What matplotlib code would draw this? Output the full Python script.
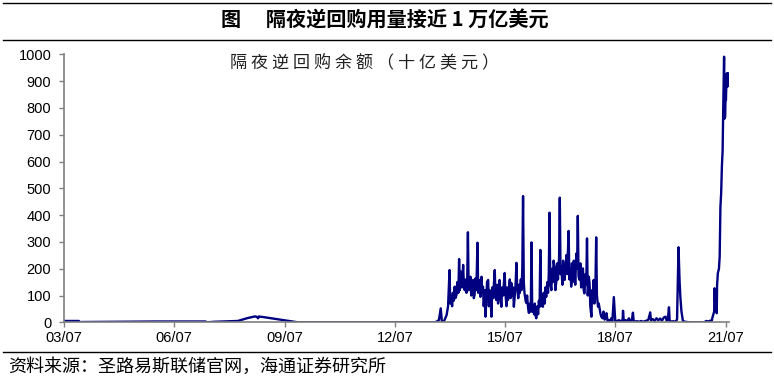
#!/usr/bin/env python3

import matplotlib
matplotlib.use("Agg")
import matplotlib.pyplot as plt
from matplotlib.lines import Line2D

plt.rcParams['font.family'] = ['Noto Sans CJK SC', 'DejaVu Sans']

TITLE = "图\u3000 隔夜逆回购用量接近 1 万亿美元"
LEGEND = " ".join("隔夜逆回购余额（十亿美元）")
SOURCE = "资料来源：圣路易斯联储官网，海通证券研究所"

# decimal year, ON RRP balance (bn USD)
early_t = [2003.50, 2003.90, 2003.92, 2005.00, 2006.00, 2007.35, 2007.39, 2007.60,
           2008.00, 2008.23, 2008.50, 2008.70, 2008.75, 2008.78, 2008.80, 2008.83,
           2008.90, 2009.86, 2013.61]
early_v = [5, 5, 1, 2, 3, 3, 0, 2,
           4, 5, 16, 22, 20, 15, 22, 21,
           20, 0, 0]

t_2013_15 = [2013.64, 2013.70, 2013.75, 2013.78, 2013.82, 2013.86, 2013.91, 2013.95,
             2013.99, 2014.01, 2014.04, 2014.06, 2014.08, 2014.10, 2014.13, 2014.15,
             2014.18, 2014.20, 2014.23, 2014.25, 2014.27, 2014.29, 2014.31, 2014.33,
             2014.36, 2014.38, 2014.40, 2014.43, 2014.45, 2014.47, 2014.49, 2014.51,
             2014.54, 2014.56, 2014.58, 2014.61, 2014.63, 2014.65, 2014.67, 2014.70,
             2014.72, 2014.75, 2014.77, 2014.79, 2014.81, 2014.83, 2014.86, 2014.88,
             2014.90, 2014.92, 2014.95, 2014.97, 2014.99]
v_2013_15 = [3, 8, 52, 5, 2, 10, 27, 60,
             195, 70, 95, 60, 110, 80, 133, 90,
             102, 150, 110, 236, 120, 190, 170, 130,
             214, 140, 120, 160, 110, 150, 336, 120,
             133, 170, 100, 140, 158, 90, 102, 165,
             120, 297, 110, 140, 158, 95, 170, 110,
             133, 60, 120, 21, 90]

t_2015_16 = [2015.01, 2015.04, 2015.06, 2015.08, 2015.11, 2015.13, 2015.15, 2015.18,
             2015.20, 2015.22, 2015.24, 2015.26, 2015.29, 2015.31, 2015.33, 2015.35,
             2015.38, 2015.40, 2015.42, 2015.45, 2015.47, 2015.49, 2015.51, 2015.54,
             2015.56, 2015.58, 2015.60, 2015.63, 2015.65, 2015.67, 2015.70, 2015.72,
             2015.74, 2015.77, 2015.79, 2015.81, 2015.83, 2015.86, 2015.88, 2015.90,
             2015.93, 2015.95, 2015.97, 2015.99, 2016.01, 2016.03, 2016.06, 2016.08,
             2016.10, 2016.13, 2016.15, 2016.18, 2016.20, 2016.22, 2016.24, 2016.26,
             2016.29, 2016.31, 2016.33, 2016.35, 2016.38, 2016.40, 2016.42, 2016.44,
             2016.46, 2016.48, 2016.51, 2016.53, 2016.55, 2016.58, 2016.60, 2016.62,
             2016.65, 2016.67, 2016.69, 2016.71, 2016.73, 2016.76, 2016.78, 2016.80,
             2016.82, 2016.85, 2016.87, 2016.90, 2016.92, 2016.94, 2016.97, 2016.99]
v_2015_16 = [150, 158, 60, 120, 80, 21, 130, 90,
             150, 195, 100, 83, 140, 70, 120, 158,
             90, 58, 130, 100, 150, 184, 110, 60,
             130, 83, 120, 160, 90, 147, 100, 130,
             58, 110, 150, 222, 130, 90, 140, 109,
             160, 120, 200, 471, 150, 109, 80, 72,
             100, 50, 35, 70, 40, 298, 40, 60,
             30, 70, 25, 15, 60, 30, 80, 58,
             270, 60, 100, 58, 110, 70, 130, 95,
             150, 110, 180, 409, 150, 120, 200, 150,
             230, 207, 120, 158, 220, 160, 240, 465]

t_2017_18 = [2017.01, 2017.03, 2017.06, 2017.08, 2017.10, 2017.12, 2017.15, 2017.17,
             2017.19, 2017.21, 2017.23, 2017.25, 2017.28, 2017.30, 2017.32, 2017.34,
             2017.37, 2017.39, 2017.41, 2017.44, 2017.46, 2017.48, 2017.50, 2017.53,
             2017.55, 2017.57, 2017.60, 2017.62, 2017.64, 2017.66, 2017.69, 2017.71,
             2017.73, 2017.75, 2017.78, 2017.80, 2017.82, 2017.85, 2017.87, 2017.89,
             2017.91, 2017.93, 2017.96, 2017.98, 2018.00, 2018.03, 2018.05, 2018.08,
             2018.10, 2018.12, 2018.15, 2018.18, 2018.21, 2018.24, 2018.26, 2018.29,
             2018.32, 2018.35, 2018.39, 2018.42, 2018.46, 2018.50, 2018.55, 2018.60,
             2018.65, 2018.70, 2018.71, 2018.73, 2018.78, 2018.83, 2018.87, 2018.90,
             2018.95, 2018.98]
v_2017_18 = [180, 207, 140, 230, 170, 158, 210, 251,
             180, 260, 341, 160, 200, 133, 220, 150,
             230, 195, 140, 257, 200, 397, 170, 158,
             220, 130, 190, 201, 120, 108, 180, 140,
             313, 100, 170, 145, 60, 21, 120, 80,
             158, 70, 139, 317, 100, 58, 70, 46,
             30, 21, 15, 40, 10, 20, 34, 5,
             8, 2, 15, 5, 94, 3, 5, 8,
             3, 10, 43, 5, 8, 4, 15, 5,
             8, 36]

t_2019_21 = [2019.00, 2019.05, 2019.10, 2019.15, 2019.20, 2019.25, 2019.30, 2019.35,
             2019.40, 2019.45, 2019.47, 2019.52, 2019.57, 2019.62, 2019.67, 2019.72,
             2019.77, 2019.82, 2019.87, 2019.90, 2019.93, 2019.96, 2019.98, 2020.03,
             2020.08, 2020.13, 2020.18, 2020.22, 2020.25, 2020.27, 2020.30, 2020.34,
             2020.40, 2020.52, 2020.93, 2020.95, 2020.98, 2021.03, 2021.08, 2021.12,
             2021.15, 2021.19, 2021.20, 2021.22, 2021.23, 2021.26, 2021.27, 2021.29,
             2021.32, 2021.34, 2021.36, 2021.38, 2021.40, 2021.42, 2021.43, 2021.44,
             2021.46, 2021.47, 2021.49, 2021.50, 2021.51, 2021.53, 2021.55, 2021.57]
v_2019_21 = [5, 3, 4, 2, 5, 2, 4, 6,
             10, 37, 8, 12, 5, 15, 8, 14,
             6, 18, 21, 5, 10, 56, 5, 3,
             4, 2, 10, 280, 150, 95, 40, 5,
             2, 0, 0, 3, 5, 3, 6, 4,
             21, 40, 127, 60, 110, 34, 140, 183,
             200, 245, 431, 480, 581, 640, 743, 829,
             991, 760, 767, 850, 829, 929, 879, 929]

tick_pos = [2003.5, 2006.5, 2009.5, 2012.5, 2015.5, 2018.5, 2021.5]
tick_lab = ["03/07", "06/07", "09/07", "12/07", "15/07", "18/07", "21/07"]
y_ticks = list(range(0, 1001, 100))

t = early_t + t_2013_15 + t_2015_16 + t_2017_18 + t_2019_21
v = early_v + v_2013_15 + v_2015_16 + v_2017_18 + v_2019_21

fig = plt.figure(figsize=(7.74, 3.85), dpi=100)
ax = fig.add_axes([64 / 774, 62.7 / 385, 664.5 / 774, 268 / 385])

ax.plot(t, v, color="#000080", lw=1.7)

ax.set_xlim(2003.5, 2021.58)
ax.set_ylim(0, 1000)
ax.set_xticks(tick_pos)
ax.set_xticklabels(tick_lab)
ax.set_yticks(y_ticks)

for s in ["top", "right"]:
    ax.spines[s].set_visible(False)
for s in ["left", "bottom"]:
    ax.spines[s].set_color("#808080")
    ax.spines[s].set_linewidth(1.2)
ax.tick_params(axis="both", colors="#808080", length=3.6, width=1, labelcolor="black")
ax.tick_params(axis="y", pad=5.5)
ax.tick_params(axis="x", pad=3)
for lab in ax.get_xticklabels() + ax.get_yticklabels():
    lab.set_fontfamily(["Liberation Sans", "DejaVu Sans"])
    lab.set_fontsize(10.5)

fig.text(0.497, 1 - 20 / 385, TITLE, ha="center", va="center", fontsize=14.5, fontweight="bold")
fig.text(364.5 / 774, 1 - 62 / 385, LEGEND, ha="center", va="center", fontsize=12.3,
         color="#202020")
fig.text(8 / 774, 1 - 367 / 385, SOURCE, ha="left", va="center", fontsize=13)

for yy in [3, 40, 352]:
    fig.add_artist(Line2D([3 / 774, 771 / 774], [1 - yy / 385, 1 - yy / 385],
                          color="black", lw=1, transform=fig.transFigure))

fig.savefig("out.png", dpi=100)
